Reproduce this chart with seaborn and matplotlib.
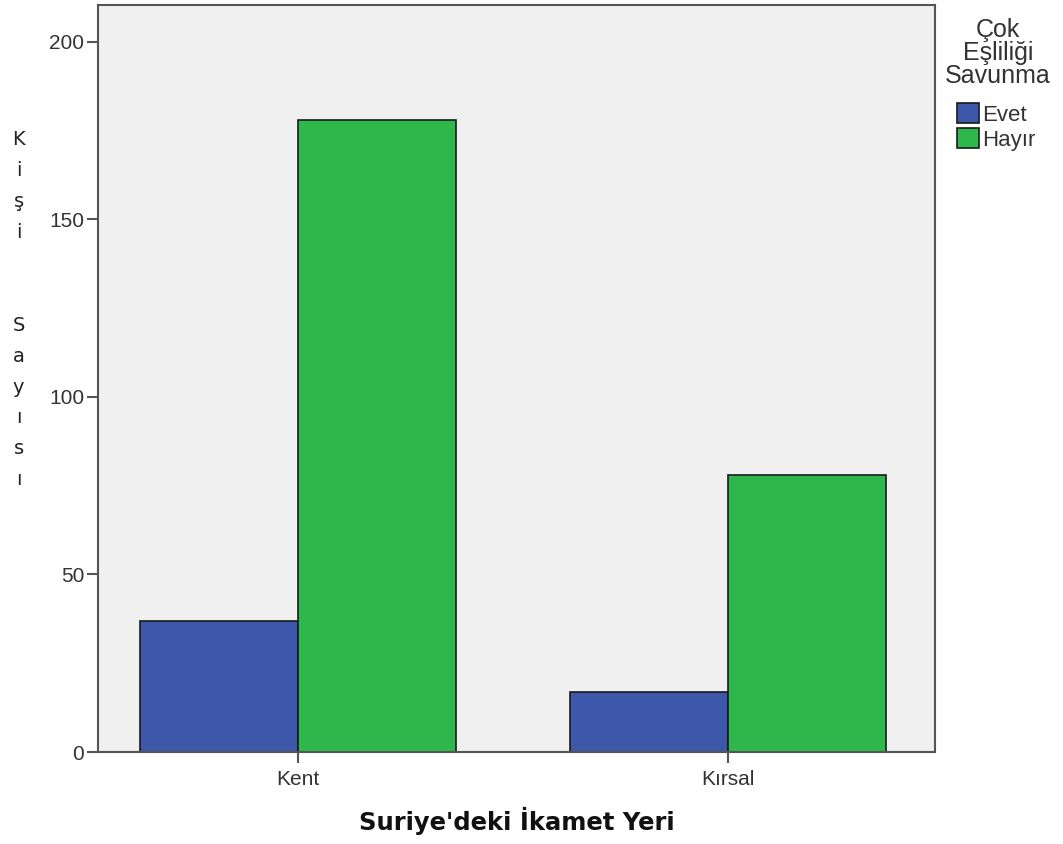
#!/usr/bin/env python3
"""Grouped bar chart: Suriye'deki İkamet Yeri vs Çok Eşliliği Savunma."""

import matplotlib

matplotlib.use("Agg")

import matplotlib.pyplot as plt
import pandas as pd
import seaborn as sns

CATEGORIES = ["Kent", "Kırsal"]
GROUPS = ["Evet", "Hayır"]
EVET_VALUES = [37, 17]
HAYIR_VALUES = [178, 78]
Y_TICKS = [0, 50, 100, 150, 200]

PALETTE = {"Evet": "#3d57ab", "Hayır": "#2eb84b"}


def main() -> None:
    df = pd.DataFrame(
        {
            "yer": CATEGORIES * 2,
            "cevap": [GROUPS[0]] * len(CATEGORIES) + [GROUPS[1]] * len(CATEGORIES),
            "sayi": EVET_VALUES + HAYIR_VALUES,
        }
    )

    sns.set_theme(style="white")
    plt.rcParams["font.family"] = ["Liberation Sans", "DejaVu Sans"]

    fig = plt.figure(figsize=(10.63, 8.44), dpi=100)
    ax = fig.add_axes([0.0922, 0.109, 0.7874, 0.885])
    ax.set_facecolor("#f0f0f0")

    sns.barplot(
        data=df,
        x="yer",
        y="sayi",
        hue="cevap",
        order=CATEGORIES,
        hue_order=GROUPS,
        palette=PALETTE,
        width=0.735,
        gap=0,
        edgecolor="#1a1a1a",
        linewidth=1.2,
        saturation=1,
        errorbar=None,
        ax=ax,
    )

    ax.set_xlim(-0.465, 1.481)
    ax.set_ylim(0, 210.4)
    ax.set_yticks(Y_TICKS)
    ax.set_yticklabels([str(t) for t in Y_TICKS])

    for spine in ax.spines.values():
        spine.set_color("#555555")
        spine.set_linewidth(1.5)

    ax.tick_params(
        axis="both",
        direction="out",
        length=8,
        width=1.5,
        color="#555555",
        labelcolor="#333333",
        labelsize=15,
        left=True,
        bottom=True,
    )
    ax.tick_params(axis="x", pad=5)
    ax.tick_params(axis="y", pad=2)

    ax.set_xlabel(
        "Suriye'deki İkamet Yeri",
        fontsize=17.5,
        fontweight="bold",
        family="DejaVu Sans",
        color="#111111",
        labelpad=13,
    )
    ax.set_ylabel("")
    fig.text(
        0.0175,
        0.633,
        "\n".join("Kişi  Sayısı"),
        ha="center",
        va="center",
        fontsize=14,
        family="DejaVu Sans",
        color="#222222",
        linespacing=1.795,
    )

    # legend title drawn separately so the gap to the entries can match
    fig.text(
        998 / 1063,
        1 - 18 / 844,
        "Çok\nEşliliği\nSavunma",
        ha="center",
        va="top",
        fontsize=18,
        color="#333333",
        linespacing=0.95,
        multialignment="center",
    )

    handles, labels = ax.get_legend_handles_labels()
    ax.legend(
        handles,
        labels,
        fontsize=16,
        loc="upper left",
        bbox_to_anchor=(957 / 1063, 1 - 103 / 844),
        bbox_transform=fig.transFigure,
        frameon=False,
        handlelength=1.0,
        handleheight=1.0,
        handletextpad=0.15,
        labelspacing=0.12,
        borderpad=0,
        borderaxespad=0,
    )
    leg = ax.get_legend()
    for text in leg.get_texts():
        text.set_color("#333333")

    fig.savefig("out.png", dpi=100)
    plt.close(fig)


if __name__ == "__main__":
    main()
